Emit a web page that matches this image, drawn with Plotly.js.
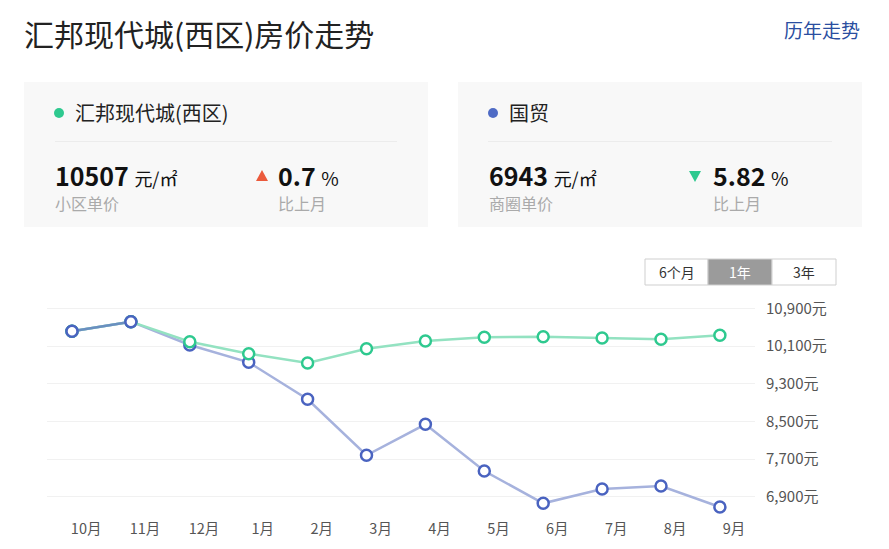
<!DOCTYPE html>
<html>
<head>
<meta charset="utf-8">
<script src="https://cdn.plot.ly/plotly-3.0.1.min.js"></script>
<style>
html,body{margin:0;padding:0;background:#fff;}
#chart{width:889px;height:549px;}
</style>
</head>
<body>
<div id="chart"></div>
<script>
// ---- data ----
const months = ["10月","11月","12月","1月","2月","3月","4月","5月","6月","7月","8月","9月"];
const estateName = "汇邦现代城(西区)";
const areaName = "国贸";
const estatePrices = [10412, 10616, 10191, 9937, 9739, 10043, 10206, 10285, 10297, 10270, 10242, 10327];
const areaPrices   = [10412, 10616, 10121, 9754, 8969, 7781, 8439, 7447, 6762, 7066, 7129, 6684];
const yTicks = [6900, 7700, 8500, 9300, 10100, 10900];
const estateUnitPrice = "10507";
const estateChange = "0.7";
const areaUnitPrice = "6943";
const areaChange = "5.82";
const rangeButtons = ["6个月", "1年", "3年"];

const W = 889, H = 549;
const px = x => x / W;
const py = y => 1 - y / H;
const FONT = '"Noto Sans CJK SC", "Noto Sans", sans-serif';

const xIdx = months.map((m, i) => i);

const green = '#2ec98f', greenLine = '#93e2c1';
const blue = '#4a63c0', blueLine = '#a6b2dd';

const traces = [
  {
    x: xIdx, y: areaPrices, type: 'scatter', mode: 'lines+markers', name: areaName,
    line: {color: blueLine, width: 2.5},
    marker: {size: 11, color: '#fff', line: {color: blue, width: 2.5}},
    hoverinfo: 'skip'
  },
  {
    x: xIdx, y: estatePrices, type: 'scatter', mode: 'lines+markers', name: estateName,
    line: {color: greenLine, width: 2.5},
    marker: {size: 11, color: '#fff', line: {color: green, width: 2.5}},
    hoverinfo: 'skip'
  }
];
// area series drawn again on top for the first shared points
traces.push({
  x: xIdx.slice(0, 2), y: areaPrices.slice(0, 2), type: 'scatter', mode: 'lines+markers',
  line: {color: '#6a8fc0', width: 2.5},
  marker: {size: 11, color: '#fff', line: {color: blue, width: 2.5}},
  hoverinfo: 'skip', showlegend: false
});

const shapes = [];
const annotations = [];

// header
annotations.push({xref:'paper', yref:'paper', x: px(22), y: py(33), xanchor:'left', yanchor:'middle',
  text: estateName + '房价走势', showarrow:false, font:{family:FONT, size:30, color:'#222'}});
annotations.push({xref:'paper', yref:'paper', x: px(862), y: py(30), xanchor:'right', yanchor:'middle',
  text: '历年走势', showarrow:false, font:{family:FONT, size:19, color:'#2a4ea0'}});

function card(x0, x1, dotColor, name, price, priceLabel, up, change, offs) {
  shapes.push({type:'rect', xref:'paper', yref:'paper', x0:px(x0), x1:px(x1), y0:py(227), y1:py(82),
    fillcolor:'#f8f8f8', line:{width:0}, layer:'below'});
  shapes.push({type:'circle', xref:'paper', yref:'paper', x0:px(offs.dot-5), x1:px(offs.dot+5),
    y0:py(118), y1:py(108), fillcolor:dotColor, line:{width:0}});
  annotations.push({xref:'paper', yref:'paper', x:px(offs.name), y:py(113), xanchor:'left', yanchor:'middle',
    text:name, showarrow:false, font:{family:FONT, size:20, color:'#222'}});
  shapes.push({type:'line', xref:'paper', yref:'paper', x0:px(offs.sep0), x1:px(offs.sep1), y0:py(141.5), y1:py(141.5),
    line:{color:'#ececec', width:1}});
  annotations.push({xref:'paper', yref:'paper', x:px(offs.num), y:py(175), xanchor:'left', yanchor:'middle',
    text:'<b>' + price + '</b> <span style="font-size:18px">元/㎡</span>', showarrow:false,
    font:{family:FONT, size:25, color:'#111'}});
  annotations.push({xref:'paper', yref:'paper', x:px(offs.num), y:py(203), xanchor:'left', yanchor:'middle',
    text:priceLabel, showarrow:false, font:{family:FONT, size:16, color:'#aaa'}});
  // triangle
  const tx = offs.tri, ty = 176;
  const path = up
    ? `M ${px(tx-6)} ${py(ty+5)} L ${px(tx+6)} ${py(ty+5)} L ${px(tx)} ${py(ty-6)} Z`
    : `M ${px(tx-6)} ${py(ty-5)} L ${px(tx+6)} ${py(ty-5)} L ${px(tx)} ${py(ty+6)} Z`;
  shapes.push({type:'path', xref:'paper', yref:'paper', path:path,
    fillcolor: up ? '#eb5a3c' : '#2ec98f', line:{width:0}});
  annotations.push({xref:'paper', yref:'paper', x:px(offs.chg), y:py(175), xanchor:'left', yanchor:'middle',
    text:'<b>' + change + '</b> <span style="font-size:19px">%</span>', showarrow:false,
    font:{family:FONT, size:25, color:'#111'}});
  annotations.push({xref:'paper', yref:'paper', x:px(offs.chg), y:py(203), xanchor:'left', yanchor:'middle',
    text:'比上月', showarrow:false, font:{family:FONT, size:16, color:'#aaa'}});
}
card(24, 428, green, estateName, estateUnitPrice, '小区单价', true, estateChange,
  {dot:59, name:73, sep0:55, sep1:397, num:53, tri:262, chg:276});
card(458, 862, '#4f6bc5', areaName, areaUnitPrice, '商圈单价', false, areaChange,
  {dot:493, name:507, sep0:488, sep1:832, num:487, tri:695, chg:711});

// range buttons
const bx = [645, 708, 772, 836];
rangeButtons.forEach((b, i) => {
  const sel = i === 1;
  shapes.push({type:'rect', xref:'paper', yref:'paper', x0:px(bx[i]), x1:px(bx[i+1]), y0:py(285), y1:py(259),
    fillcolor: sel ? '#9b9b9b' : '#fff', line:{color:'#cfcfcf', width:1}});
  annotations.push({xref:'paper', yref:'paper', x:px((bx[i]+bx[i+1])/2), y:py(272), xanchor:'center', yanchor:'middle',
    text:b, showarrow:false, font:{family:FONT, size:14, color: sel ? '#fff' : '#333'}});
});

// axis geometry
const plotL = 47, plotR = 755, plotT = 300, plotB = 515;
const xStep = 58.9, x0px = 72;
const xr = [(plotL - x0px) / xStep, (plotR - x0px) / xStep];
const vPerPx = 800 / 37.7;
const yr = [10900 - (plotB - 308.3) * vPerPx, 10900 - (plotT - 308.3) * vPerPx];

const layout = {
  width: W, height: H,
  margin: {l:0, r:0, t:0, b:0},
  paper_bgcolor:'#fff', plot_bgcolor:'#fff',
  showlegend: false,
  font: {family: FONT},
  xaxis: {
    domain: [px(plotL), px(plotR)], range: xr,
    tickmode:'array', tickvals: xIdx.map(i => i + 0.24), ticktext: months,
    showgrid:false, zeroline:false, showline:false, ticks:'',
    ticklabelstandoff: 3,
    tickfont:{family:FONT, size:14.5, color:'#555'}, fixedrange:true
  },
  yaxis: {
    domain: [py(plotB), py(plotT)], range: yr, side:'right',
    tickmode:'array', tickvals: yTicks, ticktext: yTicks.map(v => v.toLocaleString('en-US') + '元'),
    showgrid:true, gridcolor:'#f1f1f1', gridwidth:1, zeroline:false, showline:false, ticks:'',
    ticklabelstandoff: 10,
    tickfont:{family:FONT, size:15, color:'#555'}, fixedrange:true
  },
  shapes: shapes,
  annotations: annotations
};

Plotly.newPlot('chart', traces, layout, {displayModeBar:false, staticPlot:true});
</script>
</body>
</html>
